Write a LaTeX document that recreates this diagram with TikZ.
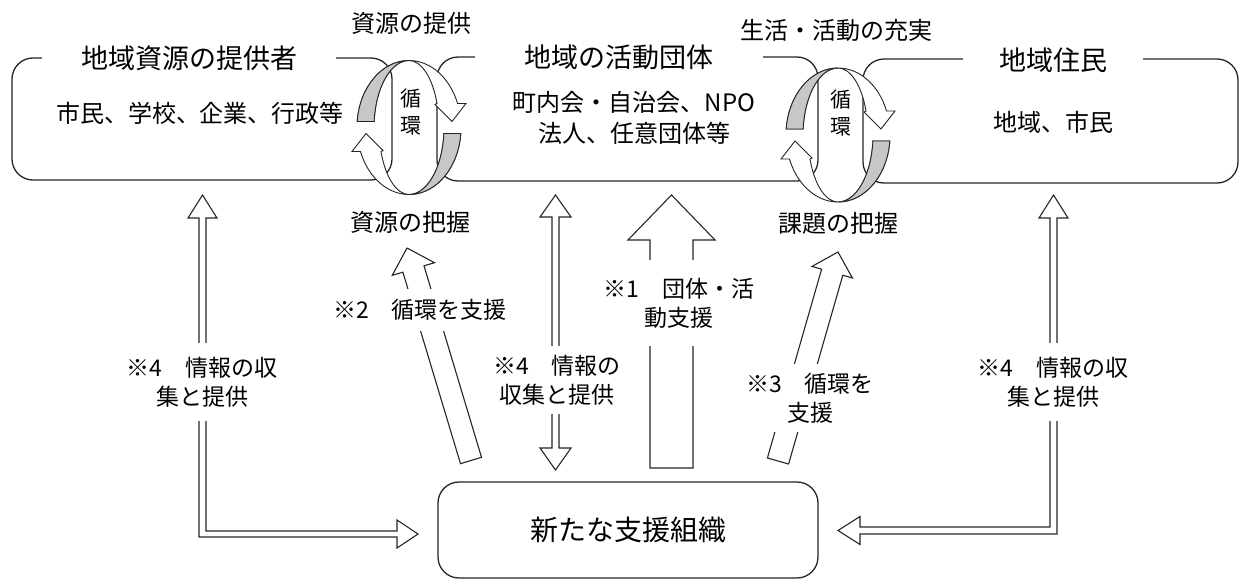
\documentclass[tikz,border=0pt]{standalone}
\usepackage{fontspec}
\setmainfont{Noto Sans CJK JP}
\tikzset{
  box/.style={draw=black!85, line width=1.3pt, rounded corners=21pt, inner sep=0pt},
  ttl/.style={fill=white, font=\fontsize{27}{32}\selectfont, inner sep=0pt, minimum height=30pt},
  txt/.style={font=\fontsize{24}{31}\selectfont, align=center, inner sep=0pt},
  jun/.style={font=\fontsize{21}{27}\selectfont, align=center, inner sep=0pt},
  lbl/.style={fill=white, font=\fontsize{23}{29}\selectfont, align=center, inner xsep=6pt},
  blk/.style={draw=black!85, line width=1.1pt, fill=white, line join=miter},
  ring/.style={draw=black!85, line width=0.9pt, fill=white},
  ringback/.style={draw=black!85, line width=0.9pt, fill=black!22},
  cyc/.pic={
    \foreach \r in {0,180}{
      \begin{scope}[rotate=\r]
        \path[ring] (185.1:52 and 67) arc[start angle=185.1, end angle=339, x radius=52, y radius=67]
          -- (57,-24) -- (43,-6) -- (26,-23) -- (339:30 and 67)
          arc[start angle=339, end angle=270, x radius=30, y radius=67]
          arc[start angle=270, end angle=185.1, x radius=35, y radius=67] -- cycle;
        \path[ringback] (185.1:52 and 67) arc[start angle=185.1, end angle=270, x radius=52, y radius=67]
          arc[start angle=270, end angle=185.1, x radius=35, y radius=67] -- cycle;
      \end{scope}
    }
  }
}
\begin{document}
\begin{tikzpicture}[x=1pt,y=-1pt]
\fill[white] (0,0) rectangle (1242,581);
\useasboundingbox (0,0) rectangle (1242,581);
% boxes
\node[box, minimum width=380pt, minimum height=122pt] (prov) at (202,119) {};
\node[box, minimum width=381pt, minimum height=124pt] (grp) at (627.5,119) {};
\node[box, minimum width=375pt, minimum height=124pt] (res) at (1050.5,121) {};
\node[box, minimum width=380pt, minimum height=96pt, font=\fontsize{28}{32}\selectfont] (org) at (628,530) {新たな支援組織};
% titles
\node[ttl, minimum width=294pt] (provT) at (189,58) {地域資源の提供者};
\node[ttl, minimum width=288pt] (grpT) at (619,57) {地域の活動団体};
\node[ttl, minimum width=180pt] (resT) at (1053,60) {地域住民};
% contents
\node[txt] (provC) at (200,113) {市民、学校、企業、行政等};
\node[txt] (grpC) at (634,118) {町内会・自治会、NPO\\法人、任意団体等};
\node[txt] (resC) at (1053,122) {地域、市民};
% cycles
\pic (c1) at (409,127.5) {cyc};
\pic (c2) at (838,135) {cyc};
\node[jun] (j1) at (411,112) {循\\環};
\node[jun] (j2) at (841,113) {循\\環};
\node[txt] (t1) at (411,23) {資源の提供};
\node[txt] (t2) at (836,30) {生活・活動の充実};
\node[txt] (t3) at (410,222) {資源の把握};
\node[txt] (t4) at (838,223) {課題の把握};
% double (outlined) arrows
\draw[blk] (202.5,195) -- (217,218) -- (206,218) -- (206,531) -- (397,531) -- (397,520) -- (418,534)
  -- (397,548) -- (397,537) -- (199,537) -- (199,218) -- (188,218) -- cycle;
\draw[blk] (1053.5,195) -- (1068,218) -- (1057,218) -- (1057,534) -- (860,534) -- (860,544.5) -- (838,530.5)
  -- (860,516.5) -- (860,527) -- (1050,527) -- (1050,218) -- (1039,218) -- cycle;
\draw[blk] (555.5,195) -- (571,217) -- (559,217) -- (559,448) -- (571,448) -- (555.5,470) -- (540,448)
  -- (552,448) -- (552,217) -- (540,217) -- cycle;
% block arrows
\draw[blk] (650,468) -- (650,240) -- (628,240) -- (671.5,195) -- (715,240) -- (693,240) -- (693,468) -- cycle;
\draw[blk] (460.5,463.7) -- (481.5,457.3) -- (424.0,265.8) -- (434.5,262.7) -- (407,248) -- (392.3,275.3)
  -- (402.9,272.2) -- cycle;
\draw[blk] (767.4,458.0) -- (788.6,464.0) -- (842.8,275.2) -- (852.4,278.0) -- (838,252) -- (812.0,266.4)
  -- (821.6,269.2) -- cycle;
% labels
\node[lbl, inner ysep=14pt] (l4a) at (202,382) {※4　情報の収\\集と提供};
\node[lbl, inner ysep=9pt] (l4b) at (557,380) {※4　情報の\\収集と提供};
\node[lbl, inner ysep=14pt] (l4c) at (1053,382) {※4　情報の収\\集と提供};
\node[lbl, inner ysep=10pt] (l2) at (420,310) {※2　循環を支援};
\node[lbl, inner ysep=18pt] (l1) at (679,303) {※1　団体・活\\動支援};
\node[lbl, inner ysep=9pt] (l3) at (810,398) {※3　循環を\\支援};
\end{tikzpicture}
\end{document}
